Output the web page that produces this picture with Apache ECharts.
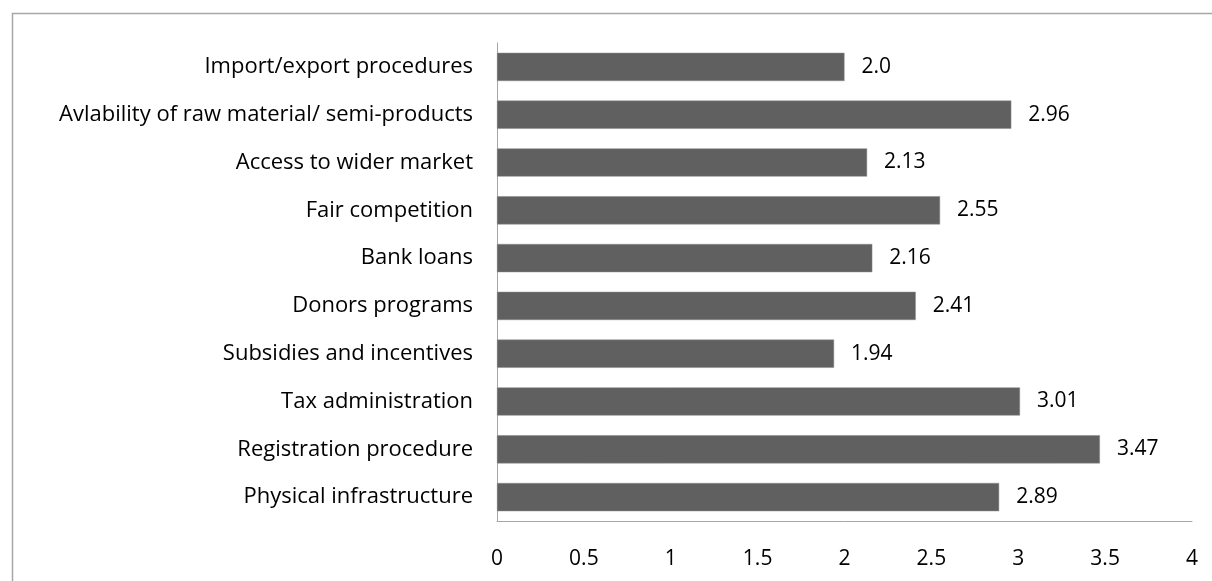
<!DOCTYPE html>
<html><head><meta charset="utf-8">
<script src="https://cdn.jsdelivr.net/npm/echarts@6/dist/echarts.min.js"></script>
<style>html,body{margin:0;padding:0;background:#fff}#c{width:1212px;height:581px}</style>
</head><body><div id="c"></div>
<script>
const categories = ["Import/export procedures","Avlability of raw material/ semi-products","Access to wider market","Fair competition","Bank loans","Donors programs","Subsidies and incentives","Tax administration","Registration procedure","Physical infrastructure"];
const values = [2.0, 2.96, 2.13, 2.55, 2.16, 2.41, 1.94, 3.01, 3.47, 2.89];
const valueLabels = ["2.0","2.96","2.13","2.55","2.16","2.41","1.94","3.01","3.47","2.89"];
const xTicks = ["0","0.5","1","1.5","2","2.5","3","3.5","4"];
const FONT = "'Open Sans', 'Noto Sans', sans-serif";
const chart = echarts.init(document.getElementById('c'), null, {renderer:'canvas'});
chart.setOption({
  animation:false,
  backgroundColor:'#fff',
  graphic:[{type:'rect',shape:{x:12.5,y:13.5,width:1400,height:800},style:{fill:'none',stroke:'#a6a6a6',lineWidth:1.5},silent:true}],
  grid:{left:497,right:20,top:43,bottom:60,containLabel:false},
  xAxis:{type:'value',min:0,max:4,interval:0.5,
    axisLine:{show:true,lineStyle:{color:'#a6a6a6',width:1}},
    axisTick:{show:false},splitLine:{show:false},
    axisLabel:{color:'#000',fontSize:21,fontFamily:FONT,margin:28,
      formatter:function(v){return xTicks[Math.round(v*2)];}}},
  yAxis:{type:'category',data:categories,inverse:true,
    axisLine:{show:true,lineStyle:{color:'#a6a6a6',width:1}},
    axisTick:{show:false},
    axisLabel:{color:'#000',fontSize:22,fontFamily:FONT,margin:24}},
  series:[{type:'bar',data:values,barCategoryGap:'41%',
    itemStyle:{color:'#606060',borderColor:'#8a8a8a',borderWidth:0.5},
    label:{show:true,position:'right',distance:17,color:'#000',fontSize:21,fontFamily:FONT,
      formatter:function(p){return valueLabels[p.dataIndex];}}}]
});
</script></body></html>
